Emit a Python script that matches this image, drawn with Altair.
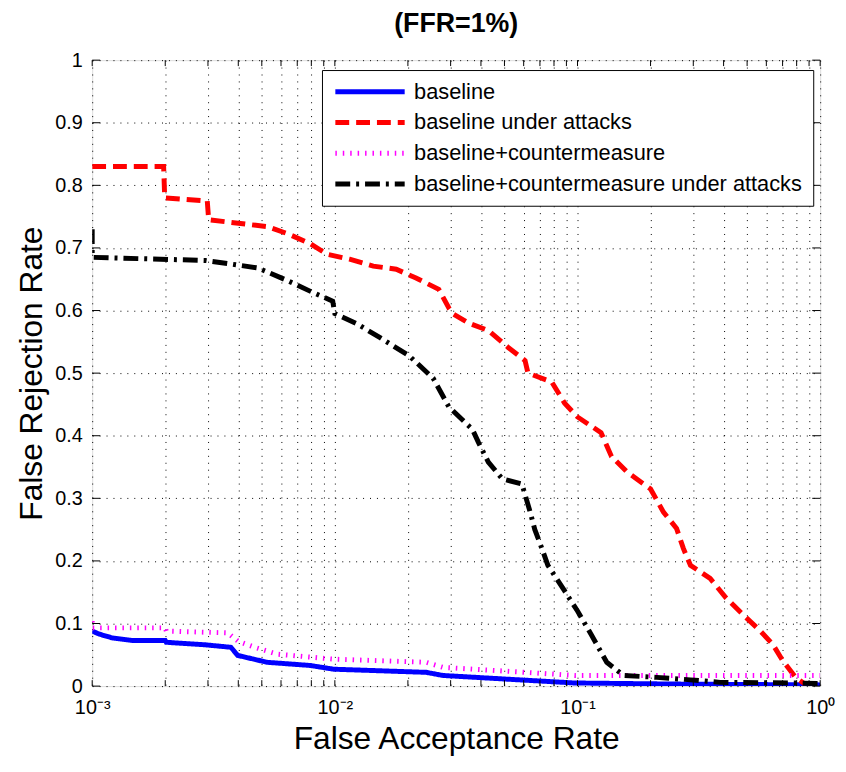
import altair as alt
import pandas as pd

series_names = ["baseline", "baseline under attacks", "baseline+countermeasure",
                "baseline+countermeasure under attacks"]
series_colors = ["#0000ff", "#ff0000", "#ff00ff", "#000000"]
series_dashes = [[1, 0], [14, 7], [1.5, 6], [15, 6, 3, 6]]
series_widths = [5, 5, 7, 5]

blue_x = [0.001, 0.00107, 0.00121, 0.00146, 0.002, 0.00202, 0.00292, 0.00373, 0.00398,
          0.00527, 0.0079, 0.0099, 0.0238, 0.0279, 0.0518, 0.0973, 0.3, 1.0]
blue_y = [0.088, 0.083, 0.077, 0.073, 0.073, 0.07, 0.066, 0.062, 0.049,
          0.038, 0.033, 0.027, 0.022, 0.017, 0.011, 0.005, 0.003, 0.002]

red_x = [0.001, 0.00197, 0.00199, 0.00298, 0.00302, 0.00409, 0.00527, 0.00636, 0.00791,
         0.00927, 0.0115, 0.0144, 0.0179, 0.0216, 0.0268, 0.0295, 0.0306, 0.0356, 0.0429,
         0.0518, 0.0608, 0.0625, 0.0783, 0.0885, 0.1, 0.125, 0.138, 0.160, 0.200, 0.226,
         0.256, 0.273, 0.292, 0.352, 0.409, 0.481, 0.564, 0.637, 0.700, 0.791, 0.869]
red_y = [0.83, 0.83, 0.78, 0.775, 0.745, 0.739, 0.734, 0.723, 0.707,
         0.69, 0.682, 0.671, 0.666, 0.652, 0.634, 0.604, 0.595, 0.58, 0.568,
         0.541, 0.52, 0.5, 0.486, 0.452, 0.43, 0.405, 0.367, 0.342, 0.315, 0.278,
         0.252, 0.22, 0.193, 0.172, 0.141, 0.114, 0.089, 0.067, 0.041, 0.014, 0.003]

magenta_x = [0.001, 0.001, 0.002, 0.00202, 0.00362, 0.00398, 0.00467, 0.0058, 0.0099,
             0.0238, 0.0279, 0.0608, 0.0973, 1.0]
magenta_y = [0.104, 0.093, 0.093, 0.088, 0.085, 0.072, 0.062, 0.051, 0.043,
             0.038, 0.03, 0.022, 0.017, 0.017]

black_x = [0.001, 0.001, 0.00292, 0.00362, 0.00481, 0.00619, 0.0079, 0.0098, 0.0100,
           0.0123, 0.0153, 0.0202, 0.0254, 0.0295, 0.0369, 0.0391, 0.0429, 0.049, 0.059,
           0.0636, 0.0667, 0.0713, 0.0755, 0.0885, 0.1, 0.114, 0.132, 0.155, 0.212,
           0.292, 0.387, 0.769, 1.0]
black_y = [0.73, 0.685, 0.68, 0.675, 0.668, 0.65, 0.631, 0.615, 0.595,
           0.579, 0.557, 0.528, 0.492, 0.446, 0.41, 0.389, 0.358, 0.331, 0.323,
           0.28, 0.25, 0.22, 0.193, 0.152, 0.12, 0.082, 0.038, 0.017, 0.014,
           0.01, 0.006, 0.005, 0.004]

x_tick_values = [m * 10.0 ** e for e in (-3, -2, -1) for m in range(1, 10)] + [1.0]
x_tick_values = [float(f"{v:.6g}") for v in x_tick_values]
y_tick_values = [0, 0.1, 0.2, 0.3, 0.4, 0.5, 0.6, 0.7, 0.8, 0.9, 1]

rows = []
for name, xs, ys in zip(series_names, [blue_x, red_x, magenta_x, black_x],
                        [blue_y, red_y, magenta_y, black_y]):
    for i, (a, b) in enumerate(zip(xs, ys)):
        rows.append({"series": name, "far": a, "frr": b, "idx": i})
df = pd.DataFrame(rows)

W, H = 735, 632
FONT = "Liberation Sans"

xscale = alt.Scale(type="log", domain=[0.001, 1], nice=False)
yscale = alt.Scale(domain=[0, 1], nice=False)

label_expr = ("datum.value == 0.001 ? '10⁻³' : datum.value == 0.01 ? '10⁻²' : "
              "datum.value == 0.1 ? '10⁻¹' : datum.value == 1 ? '10⁰' : ''")

legend = alt.Legend(title=None, orient="none", legendX=232, legendY=10,
                    strokeColor="#000000", fillColor="#ffffff", padding=11,
                    symbolType="stroke", symbolSize=4900, clipHeight=22,
                    labelFontSize=22, labelFont=FONT, labelColor="#000000",
                    labelOffset=7, rowPadding=9, labelLimit=600)

lines = alt.Chart(df).mark_line(strokeCap="butt", clip=True).encode(
    x=alt.X("far:Q", scale=xscale,
            axis=alt.Axis(values=x_tick_values, labelExpr=label_expr, ticks=False,
                          grid=True, gridDash=[1, 6], gridColor="#000000", gridOpacity=1,
                          labelOverlap=False, labelFlush=False, labelPadding=12,
                          labelFontSize=20, labelFont=FONT, labelColor="#000000",
                          domain=False, title="False Acceptance Rate",
                          titleFontSize=32, titleFontWeight="normal", titleFont=FONT,
                          titlePadding=6, titleColor="#000000")),
    y=alt.Y("frr:Q", scale=yscale,
            axis=alt.Axis(values=y_tick_values, format="~g", ticks=False, grid=True,
                          gridDash=[1, 6], gridColor="#000000", gridOpacity=1,
                          labelPadding=10, labelFontSize=20, labelFont=FONT,
                          labelColor="#000000", domain=False,
                          title="False Rejection Rate", titleFontSize=32,
                          titleFontWeight="normal", titleFont=FONT, titlePadding=6,
                          titleColor="#000000")),
    color=alt.Color("series:N", scale=alt.Scale(domain=series_names, range=series_colors),
                    legend=legend),
    strokeDash=alt.StrokeDash("series:N",
                              scale=alt.Scale(domain=series_names, range=series_dashes),
                              legend=legend),
    strokeWidth=alt.StrokeWidth("series:N",
                                scale=alt.Scale(domain=series_names, range=series_widths),
                                legend=legend),
    order="idx:Q",
)

xt = pd.DataFrame({"v": x_tick_values})
yt = pd.DataFrame({"v": y_tick_values})

x_ticks_bottom = alt.Chart(xt).mark_rule(color="#000000", strokeWidth=1).encode(
    x=alt.X("v:Q", scale=xscale), y=alt.value(H), y2=alt.value(H - 6))
x_ticks_top = alt.Chart(xt).mark_rule(color="#000000", strokeWidth=1).encode(
    x=alt.X("v:Q", scale=xscale), y=alt.value(0), y2=alt.value(6))
y_ticks_left = alt.Chart(yt).mark_rule(color="#000000", strokeWidth=1).encode(
    y=alt.Y("v:Q", scale=yscale), x=alt.value(0), x2=alt.value(8))
y_ticks_right = alt.Chart(yt).mark_rule(color="#000000", strokeWidth=1).encode(
    y=alt.Y("v:Q", scale=yscale), x=alt.value(W), x2=alt.value(W - 8))

chart = alt.layer(lines, x_ticks_bottom, x_ticks_top, y_ticks_left, y_ticks_right).properties(
    width=W, height=H,
    title=alt.Title("(FFR=1%)", fontSize=27, fontWeight="bold",
                    font="Liberation Sans Narrow, Liberation Sans",
                    color="#000000", offset=12),
    autosize=alt.AutoSizeParams(type="none"),
    padding={"left": 85, "top": 49, "right": 18, "bottom": 76},
).configure_view(
    stroke="#000000", strokeWidth=1.2
).configure(background="#ffffff")

chart.save("out.html", embed_options={"renderer": "svg", "actions": False})
